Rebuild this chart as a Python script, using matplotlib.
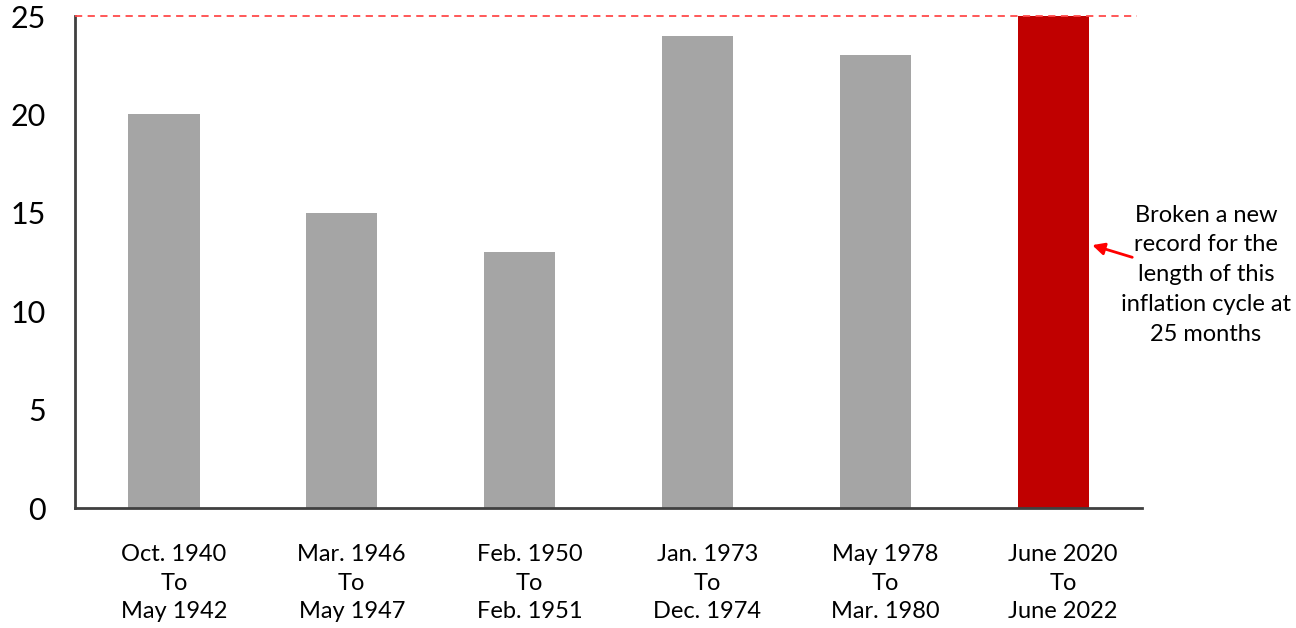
import numpy as np
import matplotlib
matplotlib.use('Agg')
import matplotlib.pyplot as plt
import matplotlib.transforms as mtransforms

plt.rcParams['font.family'] = ['Lato', 'DejaVu Sans']

# inflation cycle lengths (months)
periods = ['Oct. 1940\nTo\nMay 1942', 'Mar. 1946\nTo\nMay 1947', 'Feb. 1950\nTo\nFeb. 1951',
           'Jan. 1973\nTo\nDec. 1974', 'May 1978\nTo\nMar. 1980', 'June 2020\nTo\nJune 2022']
months = [20, 15, 13, 24, 23, 25]
record = 25
note = 'Broken a new\nrecord for the\nlength of this\ninflation cycle at\n25 months'

colors = ['#A5A5A5'] * 5 + ['#C00000']

fig = plt.figure(figsize=(12.96, 6.28), dpi=100)
ax = fig.add_axes([0.0579, 0.191, 0.8233, 0.7835])

x = np.arange(len(months))
ax.bar(x, months, width=0.4, color=colors, zorder=2)

# record line
ax.axhline(record, xmin=0, xmax=0.995, color='#FF4B4B', lw=1.3,
           dashes=(4, 3), clip_on=False, zorder=3)

ax.set_xlim(-0.5, 5.5)
ax.set_ylim(0, 25)
ax.set_yticks([0, 5, 10, 15, 20, 25])
ax.set_xticks(x)
ax.set_xticklabels(periods, fontsize=17, linespacing=1.45)
ax.tick_params(axis='y', length=0, pad=21, labelsize=22)
ax.tick_params(axis='x', length=0, pad=26)

# nudge x labels a bit right
offset = mtransforms.ScaledTranslation(10/100, 0, fig.dpi_scale_trans)
for lbl in ax.get_xticklabels():
    lbl.set_transform(lbl.get_transform() + offset)

for s in ['top', 'right']:
    ax.spines[s].set_visible(False)
for s in ['left', 'bottom']:
    ax.spines[s].set_color('#404040')
    ax.spines[s].set_linewidth(2)

ax.annotate('', xy=(5.205, 13.4), xytext=(5.46, 12.7),
            arrowprops=dict(arrowstyle='-|>', color='#FF0000', lw=2, mutation_scale=18),
            annotation_clip=False)
ax.text(5.86, 11.85, note, ha='center', va='center', fontsize=17,
        linespacing=1.52, clip_on=False)

plt.savefig('out.png', dpi=100)
